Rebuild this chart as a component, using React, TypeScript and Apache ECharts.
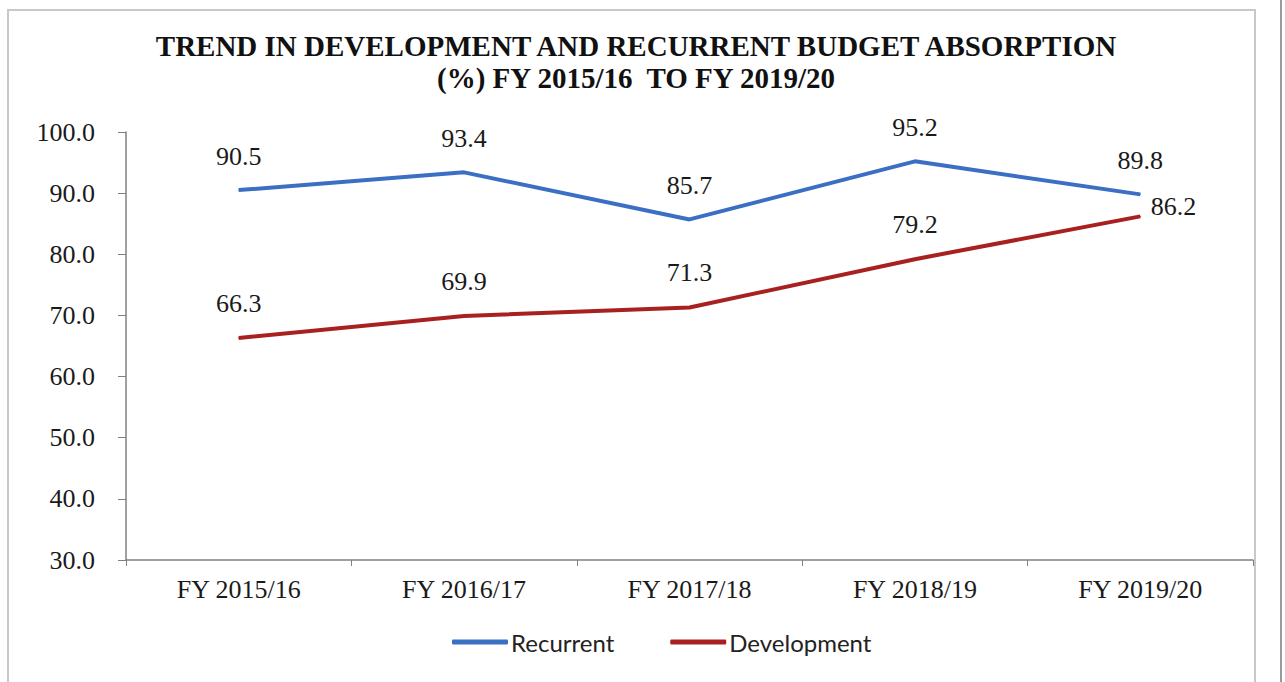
import React, { useEffect, useRef } from "react";
import * as echarts from "echarts";

const categories = ["FY 2015/16", "FY 2016/17", "FY 2017/18", "FY 2018/19", "FY 2019/20"];
const recurrent = [90.5, 93.4, 85.7, 95.2, 89.8];
const development = [66.3, 69.9, 71.3, 79.2, 86.2];
const titleLines = [
  "TREND IN DEVELOPMENT AND RECURRENT BUDGET ABSORPTION",
  "(%) FY 2015/16  TO FY 2019/20",
];

const SERIF = "'Liberation Serif', 'Times New Roman', serif";
const BLUE = "#3a6fc4";
const RED = "#a82020";

export default function App() {
  const ref = useRef<HTMLDivElement>(null);
  useEffect(() => {
    document.body.style.margin = "0";
    const chart = echarts.init(ref.current!, null, { renderer: "svg" });
    const labelBase = {
      show: true,
      position: "top",
      distance: 20,
      fontFamily: SERIF,
      fontSize: 26,
      color: "#1a1a1a",
      formatter: (p: any) => Number(p.value).toFixed(1),
    };
    chart.setOption({
      animation: false,
      backgroundColor: "#ffffff",
      title: {
        text: titleLines.join("\n"),
        left: 631,
        textAlign: "center",
        top: 25,
        textStyle: {
          fontFamily: SERIF,
          fontWeight: "bold",
          fontSize: 29,
          lineHeight: 32,
          color: "#111",
        },
      },
      legend: {
        bottom: 23,
        left: 447,
        itemWidth: 56,
        itemHeight: 5,
        itemGap: 56,
        icon: "roundRect",
        textStyle: { fontFamily: "Lato, 'Open Sans', sans-serif", fontSize: 24, color: "#222", padding: [0, 0, 0, -2] },
        data: [
          { name: "Recurrent", itemStyle: { color: BLUE } },
          { name: "Development", itemStyle: { color: RED } },
        ],
      },
      grid: { left: 126, right: 32, top: 132, bottom: 122 },
      xAxis: {
        type: "category",
        data: categories,
        boundaryGap: true,
        axisLine: { lineStyle: { color: "#808080", width: 1.5 } },
        axisTick: { show: true, length: 6, lineStyle: { color: "#808080" } },
        axisLabel: { fontFamily: SERIF, fontSize: 26, color: "#1a1a1a", margin: 16 },
      },
      yAxis: {
        type: "value",
        min: 30,
        max: 100,
        interval: 10,
        axisLine: { show: true, lineStyle: { color: "#808080", width: 1.5 } },
        axisTick: { show: true, length: 8, inside: false, lineStyle: { color: "#808080" } },
        splitLine: { show: false },
        axisLabel: {
          fontFamily: SERIF,
          fontSize: 26,
          color: "#1a1a1a",
          margin: 31,
          formatter: (v: number) => v.toFixed(1),
        },
      },
      series: [
        {
          name: "Recurrent",
          type: "line",
          data: recurrent,
          symbol: "circle",
          symbolSize: 1,
          lineStyle: { width: 4, color: BLUE },
          itemStyle: { color: BLUE },
          label: labelBase,
        },
        {
          name: "Development",
          type: "line",
          data: development.map((v, i) =>
            i === development.length - 1
              ? { value: v, label: { position: "right", distance: 10, offset: [0, -10] } }
              : v
          ),
          symbol: "circle",
          symbolSize: 1,
          lineStyle: { width: 4, color: RED },
          itemStyle: { color: RED },
          label: { ...labelBase, distance: 21 },
        },
      ],
      graphic: [
        {
          type: "polyline",
          shape: { points: [[8, 682], [8, 10], [1255, 10], [1255, 682]] },
          style: { stroke: "#c8c8c8", lineWidth: 2, fill: "none" },
          silent: true,
        },
        {
          type: "line",
          shape: { x1: 1281, y1: 0, x2: 1281, y2: 682 },
          style: { stroke: "#9a9a9a", lineWidth: 2 },
          silent: true,
        },
      ],
    });
    return () => chart.dispose();
  }, []);
  return (
    <div
      ref={ref}
      style={{ position: "absolute", left: 0, top: 0, width: 1285, height: 682 }}
    />
  );
}
